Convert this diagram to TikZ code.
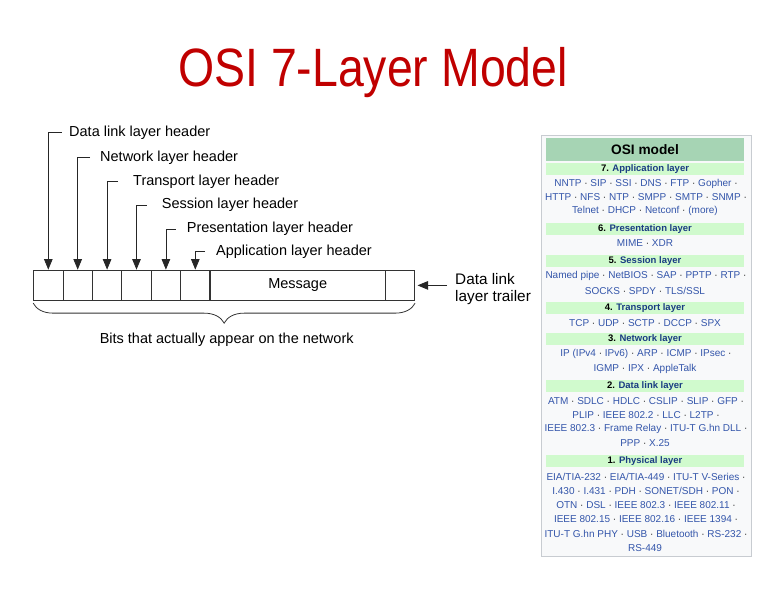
\documentclass[tikz,border=0pt]{standalone}
\usepackage{fontspec}
\setmainfont{Liberation Sans}
\newfontfamily\titlefont[FakeStretch=0.86]{Liberation Sans}
\usetikzlibrary{arrows.meta,decorations.pathreplacing}
\definecolor{titlered}{RGB}{192,0,0}
\definecolor{linkblue}{RGB}{51,85,170}
\definecolor{headblue}{RGB}{25,60,130}
\definecolor{hdrgreen}{RGB}{166,212,180}
\definecolor{bargreen}{RGB}{208,250,205}
\definecolor{tblborder}{RGB}{200,204,209}
\definecolor{tblbg}{RGB}{248,249,250}
\definecolor{dotgray}{RGB}{40,40,40}
\newcommand{\osep}{ {\color{dotgray}·} }
\newcommand{\oend}{ {\color{dotgray}·}}
\tikzset{
  cell/.style={draw=black!80,line width=0.8pt,minimum width=29.4pt,minimum height=30.7pt,inner sep=0pt},
  txt/.style={inner sep=0pt,font=\fontsize{14.5}{17.7}\selectfont},
  lab/.style={txt,anchor=west},
  hdr/.style={draw=black!85,line width=0.8pt,-{Triangle[length=10.5pt,width=8.5pt]}},
  bar/.style={fill=bargreen,minimum width=198pt,minimum height=12pt,inner sep=0pt,font=\fontsize{9.5}{11}\selectfont\bfseries},
  row/.style={inner sep=0pt,text=linkblue,font=\fontsize{10}{12}\selectfont}
}
\begin{document}
\begin{tikzpicture}[x=1pt,y=-1pt]
\useasboundingbox (0,0) rectangle (768,593);
\node[anchor=base,text=titlered,inner sep=0pt,font=\titlefont\fontsize{54}{60}\selectfont] (title) at (373,86.7) {OSI 7-Layer Model};
% the frame
\node[cell] (c1) at (48.3,285.4) {};
\node[cell] (c2) at (77.7,285.4) {};
\node[cell] (c3) at (107.1,285.4) {};
\node[cell] (c4) at (136.5,285.4) {};
\node[cell] (c5) at (165.9,285.4) {};
\node[cell] (c6) at (195.3,285.4) {};
\node[cell,minimum width=176pt,font=\fontsize{14.5}{17}\selectfont] (msg) at (297.7,285.4) {Message};
\node[cell,minimum width=29pt] (trl) at (400.2,285.4) {};
% headers
\node[lab] (l1) at (69,132.5) {Data link layer header};
\node[lab] (l2) at (100,157.5) {Network layer header};
\node[lab] (l3) at (133,181.5) {Transport layer header};
\node[lab] (l4) at (161.7,205.2) {Session layer header};
\node[lab] (l5) at (186.7,229.2) {Presentation layer header};
\node[lab] (l6) at (216,251.5) {Application layer header};
\node[lab,align=left,font=\fontsize{15.3}{17.7}\selectfont] (tl) at (455,289) {Data link\\layer trailer};
\draw[hdr] ([xshift=-7.3pt]l1.west) -| (c1.north);
\draw[hdr] ([xshift=-10pt]l2.west) -| (c2.north);
\draw[hdr] ([xshift=-15pt]l3.west) -| (c3.north);
\draw[hdr] ([xshift=-15pt]l4.west) -| (c4.north);
\draw[hdr] ([xshift=-11pt]l5.west) -| (c5.north);
\draw[hdr] ([xshift=-11pt]l6.west) -| (c6.north);
\draw[hdr] ([xshift=-8pt]tl.west |- trl.east) -- ([xshift=2.4pt]trl.east);
\draw[draw=black!80,line width=0.8pt,decorate,decoration={brace,amplitude=20pt}]
  ([yshift=-2pt]trl.south east) -- ([yshift=-2pt]c1.south west);
\node[txt] (bits) at (226.7,340) {Bits that actually appear on the network};
% OSI model box
\draw[draw=tblborder,fill=tblbg] (541,135) rectangle (751,556);
\node[fill=hdrgreen,minimum width=198pt,minimum height=23pt,inner sep=0pt,font=\fontsize{13.7}{16}\selectfont\bfseries] (hd) at (645,149.5) {OSI model};
\node[bar] (b7) at (645,169) {7. \textcolor{headblue}{Application layer}};
\node[row] (r7a) at (646,184) {NNTP\osep SIP\osep SSI\osep DNS\osep FTP\osep Gopher\oend};
\node[row] (r7b) at (646,197.5) {HTTP\osep NFS\osep NTP\osep SMPP\osep SMTP\osep SNMP\oend};
\node[row] (r7c) at (645,211) {Telnet\osep DHCP\osep Netconf\osep (more)};
\node[bar] (b6) at (645,229) {6. \textcolor{headblue}{Presentation layer}};
\node[row] (r6a) at (645,243) {MIME\osep XDR};
\node[bar] (b5) at (645,261) {5. \textcolor{headblue}{Session layer}};
\node[row] (r5a) at (646,276) {Named pipe\osep NetBIOS\osep SAP\osep PPTP\osep RTP\oend};
\node[row] (r5b) at (645,290.5) {SOCKS\osep SPDY\osep TLS/SSL};
\node[bar] (b4) at (645,308) {4. \textcolor{headblue}{Transport layer}};
\node[row] (r4a) at (645,323) {TCP\osep UDP\osep SCTP\osep DCCP\osep SPX};
\node[bar] (b3) at (645,339.5) {3. \textcolor{headblue}{Network layer}};
\node[row] (r3a) at (646,354) {IP (IPv4\osep IPv6)\osep ARP\osep ICMP\osep IPsec\oend};
\node[row] (r3b) at (645,368.5) {IGMP\osep IPX\osep AppleTalk};
\node[bar] (b2) at (645,386) {2. \textcolor{headblue}{Data link layer}};
\node[row] (r2a) at (646,401) {ATM\osep SDLC\osep HDLC\osep CSLIP\osep SLIP\osep GFP\oend};
\node[row] (r2b) at (646,415) {PLIP\osep IEEE 802.2\osep LLC\osep L2TP\oend};
\node[row] (r2c) at (646,429) {IEEE 802.3\osep Frame Relay\osep ITU-T G.hn DLL\oend};
\node[row] (r2d) at (645,443) {PPP\osep X.25};
\node[bar] (b1) at (645,461) {1. \textcolor{headblue}{Physical layer}};
\node[row] (r1a) at (646,476.5) {EIA/TIA-232\osep EIA/TIA-449\osep ITU-T V-Series\oend};
\node[row] (r1b) at (646,491) {I.430\osep I.431\osep PDH\osep SONET/SDH\osep PON\oend};
\node[row] (r1c) at (646,505) {OTN\osep DSL\osep IEEE 802.3\osep IEEE 802.11\oend};
\node[row] (r1d) at (646,519.5) {IEEE 802.15\osep IEEE 802.16\osep IEEE 1394\oend};
\node[row] (r1e) at (646,534) {ITU-T G.hn PHY\osep USB\osep Bluetooth\osep RS-232\oend};
\node[row] (r1f) at (645,548) {RS-449};
\end{tikzpicture}
\end{document}
